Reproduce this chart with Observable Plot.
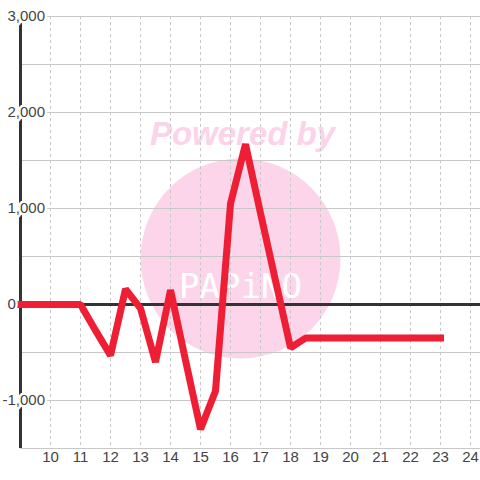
<!DOCTYPE html>
<html>
<head>
<meta charset="utf-8">
<script src="https://cdn.jsdelivr.net/npm/d3@7"></script>
<script src="https://cdn.jsdelivr.net/npm/@observablehq/plot@0.6"></script>
<style>
  html, body { margin: 0; padding: 0; background: #fff; }
</style>
</head>
<body>
<div id="chart"></div>
<script>
// Data
const xValues = [9, 9.5, 10, 10.5, 11, 11.5, 12, 12.5, 13, 13.5, 14, 14.5, 15, 15.5, 16, 16.5, 17, 17.5, 18, 18.5, 19, 19.5, 20, 20.5, 21, 21.5, 22, 22.5, 23];
const yValues = [0, 0, 0, 0, 0, -270, -530, 160, -40, -600, 150, -580, -1300, -900, 1050, 1670, 950, 250, -450, -350, -350, -350, -350, -350, -350, -350, -350, -350, -350];
const xTicks = [10, 11, 12, 13, 14, 15, 16, 17, 18, 19, 20, 21, 22, 23, 24];
const yTicks = [3000, 2000, 1000, 0, -1000];
const yGrid = [-1500, -1000, -500, 0, 500, 1000, 1500, 2000, 2500, 3000];

const data = xValues.map((x, i) => ({x, y: yValues[i]}));
const fmt = v => d3.format(",")(v).replace("\u2212", "-");

const chart = Plot.plot({
  width: 480,
  height: 480,
  marginLeft: 20,
  marginRight: 0,
  marginTop: 16,
  marginBottom: 32,
  x: {domain: [9, 24.333], axis: null},
  y: {domain: [-1500, 3000], axis: null},
  style: {fontFamily: "'Liberation Sans', Arial, sans-serif", fontSize: "15px", background: "#fff"},
  marks: [
    // watermark
    Plot.dot([0], {frameAnchor: "middle", dx: -10, dy: 26, r: 100, fill: "#fcd5eb", stroke: "none"}),
    Plot.text(["Powered by"], {frameAnchor: "middle", dx: -8, dy: -98, text: d => d, fill: "#fdd3ea", fontSize: 33, fontWeight: "bold", fontStyle: "italic", fontFamily: "'Liberation Sans', Arial, sans-serif"}),
    Plot.text(["PAPiNO"], {frameAnchor: "middle", dx: -10, dy: 55, text: d => d, fill: "#fff", fontSize: 34, fontWeight: 300, fontFamily: "'DejaVu Sans Mono', monospace", letterSpacing: "2px"}),
    // grid
    Plot.ruleY(yGrid, {stroke: "#c8c8c8", strokeWidth: 1}),
    Plot.ruleX(xTicks, {stroke: "#c8c8c8", strokeWidth: 1, strokeDasharray: "3,3"}),
    // zero line and left axis
    Plot.ruleY([0], {stroke: "#333", strokeWidth: 3}),
    Plot.ruleX([9], {stroke: "#333", strokeWidth: 3}),
    // series
    Plot.line(data, {x: "x", y: "y", stroke: "#ee1f35", strokeWidth: 7, strokeLinecap: "square", strokeLinejoin: "miter"}),
    // y labels
    Plot.text(yTicks.filter(v => v >= 0), {y: d => d, frameAnchor: "left", dx: -13, textAnchor: "start", text: fmt, fill: "#444", stroke: "#fff", strokeWidth: 5}),
    Plot.text(yTicks.filter(v => v < 0), {y: d => d, frameAnchor: "left", dx: -18, textAnchor: "start", text: fmt, fill: "#444", stroke: "#fff", strokeWidth: 5}),
    // x labels
    Plot.text(xTicks, {x: d => d, frameAnchor: "bottom", dy: 13, text: d => String(d), fill: "#444"})
  ]
});
document.getElementById("chart").appendChild(chart);
</script>
</body>
</html>
